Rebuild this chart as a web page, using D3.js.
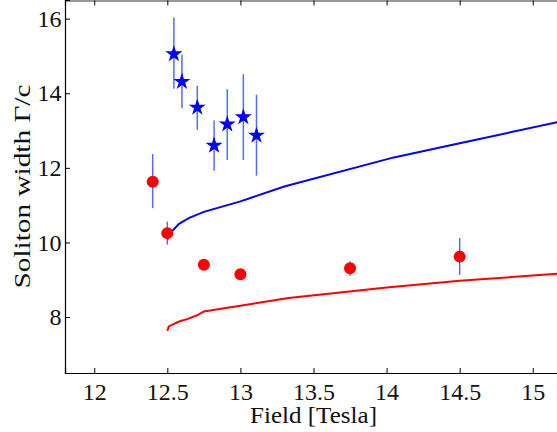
<!DOCTYPE html>
<html>
<head>
<meta charset="utf-8">
<script src="https://cdn.jsdelivr.net/npm/d3@7"></script>
</head>
<body style="margin:0;background:#fff">
<script>
const width = 557;
const height = 432;
const margins = { left: 65, right: -5, top: 0, bottom: 59 };
const fontFamily = '"Liberation Serif", "Times New Roman"';

// measured widths, red dots
const dotField = [12.4, 12.5, 12.75, 13.0, 13.75, 14.5];
const dotWidth = [11.63, 10.25, 9.4, 9.15, 9.31, 9.62];
const dotLow   = [10.92, 9.94, 9.4, 9.15, 9.11, 9.13];
const dotHigh  = [12.37, 10.56, 9.4, 9.15, 9.49, 10.12];

// measured widths, blue stars
const starField = [12.545, 12.6, 12.705, 12.82, 12.91, 13.02, 13.11];
const starWidth = [15.05, 14.31, 13.62, 12.6, 13.17, 13.36, 12.87];
const starLow   = [14.12, 13.6, 13.02, 11.92, 12.21, 12.21, 11.79];
const starHigh  = [16.03, 15.03, 14.2, 13.27, 14.11, 14.51, 13.96];

// theory curves
const blueField = [12.5, 12.52, 12.58, 12.65, 12.75, 13.0, 13.3, 14.05, 14.5, 15.2];
const blueWidth = [10.08, 10.25, 10.5, 10.66, 10.82, 11.1, 11.5, 12.28, 12.66, 13.25];
const redField = [12.5, 12.51, 12.58, 12.64, 12.7, 12.75, 13.33, 14.0, 14.5, 15.2];
const redWidth = [7.63, 7.75, 7.88, 7.95, 8.04, 8.15, 8.51, 8.79, 8.97, 9.17];

const xTicks = [12, 12.5, 13, 13.5, 14, 14.5, 15];
const yTicks = [8, 10, 12, 14, 16];

const svg = d3.select('body').append('svg')
    .style('display', 'block')
    .attr('width', width)
    .attr('height', height);

const x = d3.scaleLinear()
    .domain([11.8, 15.2])
    .range([margins.left, width - margins.right]);

const y = d3.scaleLinear()
    .domain([6.5, 16.5])
    .range([height - margins.bottom, margins.top]);

const plotBottom = height - margins.bottom;

function styleText(sel, size) {
  sel.style('font-family', fontFamily)
     .style('font-size', size + 'px')
     .style('fill', '#111');
}

// axes, ticks pointing inward
svg.append('g')
    .attr('transform', `translate(0, ${plotBottom})`)
    .call(d3.axisBottom(x).tickValues(xTicks).tickSize(-5).tickPadding(10).tickFormat(d3.format('')))
    .call(g => g.select('.domain').attr('stroke', '#000').attr('stroke-width', 1.2))
    .call(g => g.selectAll('text').call(styleText, 24));

svg.append('g')
    .attr('transform', `translate(0, ${margins.top + 0.5})`)
    .call(d3.axisTop(x).tickValues(xTicks).tickSize(-5).tickFormat(''))
    .call(g => g.select('.domain').attr('stroke', '#333').attr('stroke-width', 1.2));

svg.append('g')
    .attr('transform', `translate(${margins.left}, 0)`)
    .call(d3.axisLeft(y).tickValues(yTicks).tickSize(-5).tickPadding(3.5))
    .call(g => g.select('.domain').attr('stroke', '#000').attr('stroke-width', 1.2))
    .call(g => g.selectAll('text').call(styleText, 24));

svg.append('text')
    .attr('x', 313.5)
    .attr('y', 423)
    .attr('text-anchor', 'middle')
    .attr('textLength', 127)
    .attr('lengthAdjust', 'spacingAndGlyphs')
    .call(styleText, 23)
    .text('Field [Tesla]');

svg.append('text')
    .attr('transform', 'translate(30, 186.5) rotate(-90)')
    .attr('text-anchor', 'middle')
    .attr('textLength', 204)
    .attr('lengthAdjust', 'spacingAndGlyphs')
    .call(styleText, 23)
    .text('Soliton width Γ/c');

const plot = svg.append('g');

const line = d3.line()
    .x(d => x(d[0]))
    .y(d => y(d[1]));

plot.append('path')
    .datum(d3.zip(blueField, blueWidth))
    .attr('d', line)
    .attr('fill', 'none')
    .attr('stroke', '#0000ff')
    .attr('stroke-width', 2);

plot.append('path')
    .datum(d3.zip(redField, redWidth))
    .attr('d', line)
    .attr('fill', 'none')
    .attr('stroke', '#ff0000')
    .attr('stroke-width', 2);

// error bars
const errColor = 'rgba(40, 70, 255, 0.8)';
plot.selectAll('.err-dot')
    .data(dotField.map((f, i) => ({ f, lo: dotLow[i], hi: dotHigh[i] })).filter(d => d.hi - d.lo > 0.01))
    .join('line')
    .attr('x1', d => x(d.f))
    .attr('x2', d => x(d.f))
    .attr('y1', d => y(d.lo))
    .attr('y2', d => y(d.hi))
    .attr('stroke', errColor)
    .attr('stroke-width', 1.5);

plot.selectAll('.err-star')
    .data(starField.map((f, i) => ({ f, lo: starLow[i], hi: starHigh[i] })))
    .join('line')
    .attr('x1', d => x(d.f))
    .attr('x2', d => x(d.f))
    .attr('y1', d => y(d.lo))
    .attr('y2', d => y(d.hi))
    .attr('stroke', errColor)
    .attr('stroke-width', 1.5);

plot.selectAll('circle')
    .data(d3.zip(dotField, dotWidth))
    .join('circle')
    .attr('cx', d => x(d[0]))
    .attr('cy', d => y(d[1]))
    .attr('r', 6)
    .attr('fill', '#ff0000');

const star = d3.symbol().type(d3.symbolStar).size(90);
plot.selectAll('.star')
    .data(d3.zip(starField, starWidth))
    .join('path')
    .attr('class', 'star')
    .attr('transform', d => `translate(${x(d[0])}, ${y(d[1])})`)
    .attr('d', star)
    .attr('fill', '#0000ff');
</script>
</body>
</html>
